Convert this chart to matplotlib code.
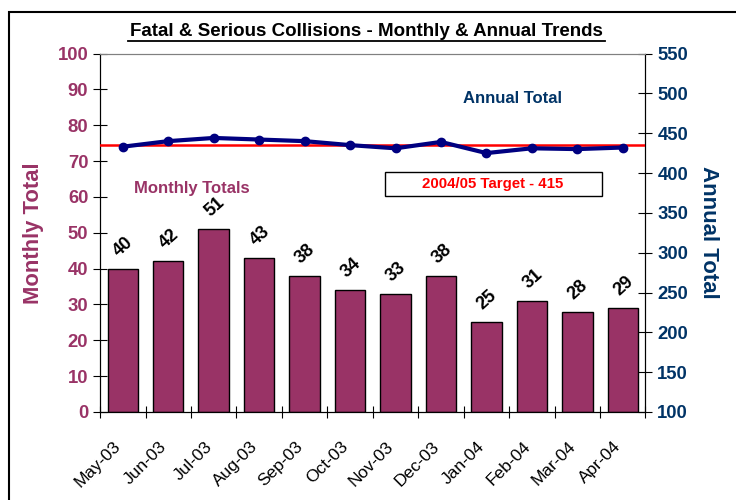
import numpy as np
import matplotlib.pyplot as plt
from matplotlib.patches import Rectangle

plt.rcParams["font.family"] = ["Liberation Sans", "DejaVu Sans"]

months = ["May-03", "Jun-03", "Jul-03", "Aug-03", "Sep-03", "Oct-03",
          "Nov-03", "Dec-03", "Jan-04", "Feb-04", "Mar-04", "Apr-04"]
monthly = [40, 42, 51, 43, 38, 34, 33, 38, 25, 31, 28, 29]
annual = [433, 440, 444, 442, 440, 435, 431, 439, 425, 431, 430, 432]
target = 435

PLUM = "#993366"
NAVY = "#000080"
AXBLUE = "#003366"

fig = plt.figure(figsize=(7.36, 5.0), dpi=100)
ax = fig.add_axes([0.136, 0.176, 0.741, 0.717])
ax2 = ax.twinx()

x = np.arange(len(months))
ax.bar(x, monthly, width=0.67, color=PLUM, edgecolor="black", linewidth=1.0, zorder=2)
for xi, v in zip(x, monthly):
    ax.annotate(str(v), (xi, v), xytext=(0.5, 6.5), textcoords="offset points",
                ha="center", va="bottom", rotation=42, fontsize=13,
                fontweight="bold", color="black")

ax.set_xlim(-0.5, 11.5)
ax.set_ylim(0, 100)
ax.set_yticks(range(0, 101, 10))
ax.set_xticks(np.arange(-0.5, 12, 1))
ax.set_xticklabels([])
# month labels drawn by hand: slanted, ending just left of each bar centre
for xi, m in zip(x, months):
    ax.annotate(m, (xi, 0), xycoords=("data", "axes fraction"),
                xytext=(-3, -23), textcoords="offset points",
                rotation=45, ha="right", va="center", rotation_mode="anchor",
                fontsize=12.5, annotation_clip=False)
ax.tick_params(axis="x", which="major", direction="inout", length=8)
ax.tick_params(axis="y", direction="inout", length=10, labelsize=13.3,
               labelcolor=PLUM)
for lbl in ax.get_yticklabels():
    lbl.set_fontweight("bold")
ax.set_ylabel("Monthly Total", fontsize=15.8, fontweight="bold", color=PLUM,
              labelpad=10)

ax2.set_ylim(100, 550)
ax2.set_yticks(range(100, 551, 50))
ax2.axhline(target, color="red", lw=1.8, zorder=3)
ax2.plot(x, annual, color=NAVY, lw=3, marker="o", markersize=6, zorder=4)
ax2.tick_params(axis="y", direction="inout", length=10, labelsize=13.3,
                labelcolor=AXBLUE)
for lbl in ax2.get_yticklabels():
    lbl.set_fontweight("bold")
ax2.set_ylabel("Annual Total", fontsize=16, fontweight="bold", color=AXBLUE,
               rotation=-90, labelpad=22)

for a in (ax, ax2):
    a.spines["top"].set_color("#808080")
    a.spines["left"].set_color("black")
    a.spines["right"].set_color("black")
    a.spines["bottom"].set_color("black")
    a.patch.set_visible(False)

ax.set_zorder(1)
ax2.set_zorder(2)

fig.text(0.498, 0.938, "Fatal & Serious Collisions - Monthly & Annual Trends",
         ha="center", va="center", fontsize=13.5, fontweight="bold")
fig.add_artist(plt.Line2D([0.174, 0.822], [0.919, 0.919], color="black",
                          lw=1.3, transform=fig.transFigure))

fig.text(0.696, 0.803, "Annual Total", ha="center", va="center",
         fontsize=12, fontweight="bold", color=AXBLUE)
fig.text(0.261, 0.624, "Monthly Totals", ha="center", va="center",
         fontsize=12, fontweight="bold", color=PLUM)
fig.add_artist(Rectangle((0.523, 0.608), 0.295, 0.048, transform=fig.transFigure,
                         facecolor="white", edgecolor="black", lw=1, zorder=5))
fig.text(0.669, 0.632, "2004/05 Target - 415", ha="center", va="center",
         fontsize=10.8, fontweight="bold", color="red", zorder=6)

fig.add_artist(Rectangle((0.012, -0.05), 1.1, 1.026, transform=fig.transFigure,
                         facecolor="none", edgecolor="black", lw=1.5))

fig.savefig("out.png", dpi=100)
